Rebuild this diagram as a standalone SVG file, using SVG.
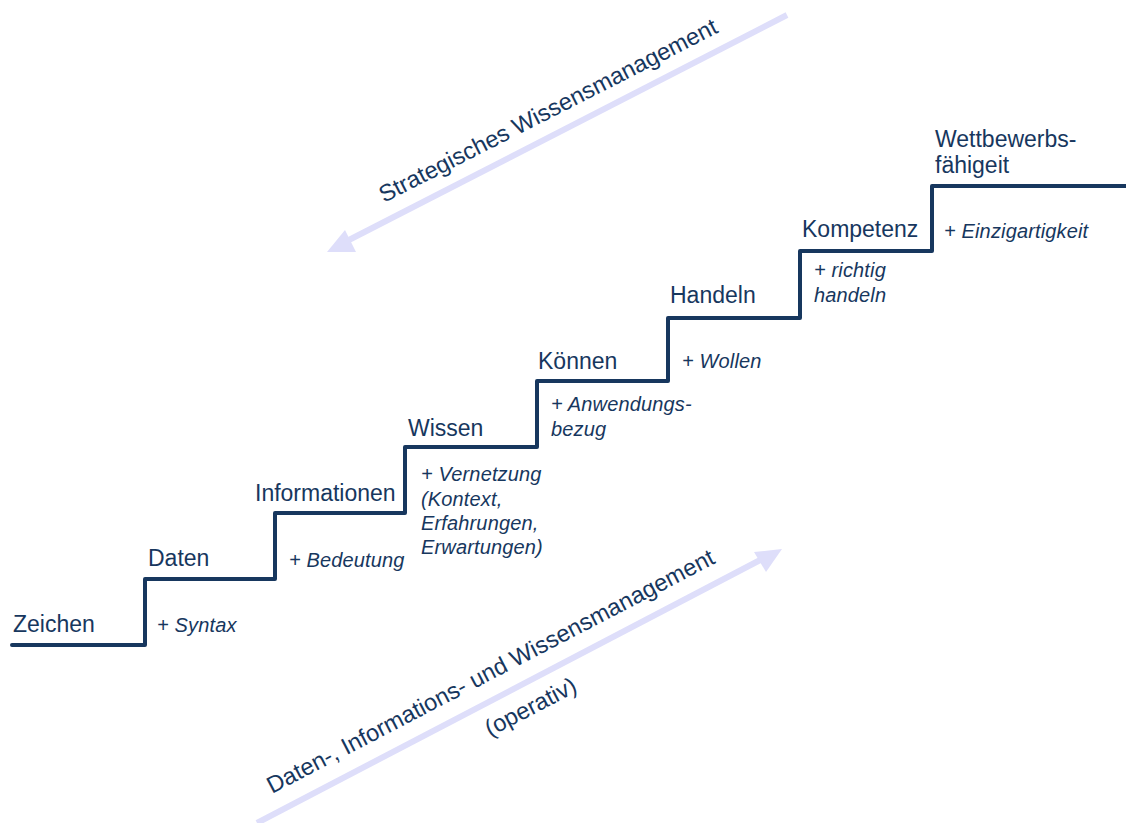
<svg xmlns="http://www.w3.org/2000/svg" width="1126" height="823" viewBox="0 0 1126 823">
  <style>
    .step { fill: none; stroke: #17375e; stroke-width: 4; stroke-linejoin: round; stroke-linecap: round; }
    .lbl { font-family: "Liberation Sans", Arial, sans-serif; font-size: 23px; fill: #17375e; }
    .cap { font-family: "Liberation Sans", Arial, sans-serif; font-size: 23.6px; fill: #17375e; }
    .add { font-family: "Liberation Sans", Arial, sans-serif; font-size: 20px; font-style: italic; fill: #17375e; letter-spacing: 0.15px; }
    .dir { fill: none; stroke: #dedefa; stroke-width: 6; }
    .head { fill: #dedefa; }
  </style>

  <!-- direction arrows -->
  <g id="connectors">
    <line class="dir" x1="787" y1="15" x2="345" y2="242"/>
    <polygon class="head" points="327,252 345,230 356,252"/>
    <line class="dir" x1="257" y1="823" x2="764" y2="558"/>
    <polygon class="head" points="782,549 754,552 766,572"/>
  </g>

  <!-- staircase -->
  <g id="stairs">
    <path class="step" d="M12,645 H145 V579 H275 V513 H405 V447 H537 V381 H668 V318 H800 V251 H932 V186 H1126"/>
  </g>

  <g id="zeichen">
    <text class="lbl" x="13" y="632">Zeichen</text>
  </g>
  <g id="daten">
    <text class="lbl" x="148" y="566">Daten</text>
    <text class="add" x="157" y="632">+ Syntax</text>
  </g>
  <g id="informationen">
    <text class="lbl" x="255" y="501">Informationen</text>
    <text class="add" x="289" y="567">+ Bedeutung</text>
  </g>
  <g id="wissen">
    <text class="lbl" x="408" y="436">Wissen</text>
    <text class="add" x="421" y="481">+ Vernetzung</text>
    <text class="add" x="421" y="506">(Kontext,</text>
    <text class="add" x="421" y="530">Erfahrungen,</text>
    <text class="add" x="421" y="554">Erwartungen)</text>
  </g>
  <g id="koennen">
    <text class="lbl" x="538" y="369">Können</text>
    <text class="add" x="551" y="411">+ Anwendungs-</text>
    <text class="add" x="551" y="436">bezug</text>
  </g>
  <g id="handeln">
    <text class="lbl" x="670" y="303">Handeln</text>
    <text class="add" x="682" y="368">+ Wollen</text>
  </g>
  <g id="kompetenz">
    <text class="lbl" x="802" y="237">Kompetenz</text>
    <text class="add" x="814" y="277">+ richtig</text>
    <text class="add" x="814" y="302">handeln</text>
  </g>
  <g id="wettbewerb">
    <text class="lbl" x="935" y="147">Wettbewerbs-</text>
    <text class="lbl" x="935" y="173">fähigeit</text>
    <text class="add" x="944" y="238">+ Einzigartigkeit</text>
  </g>

  <!-- arrow captions -->
  <g id="strategisch">
    <text class="cap" x="384" y="203" transform="rotate(-27 384 203)">Strategisches Wissensmanagement</text>
  </g>
  <g id="operativ">
    <text class="cap" x="272" y="794" transform="rotate(-27.5 272 794)">Daten-, Informations- und Wissensmanagement</text>
    <text class="cap" x="490" y="737" transform="rotate(-27.5 490 737)">(operativ)</text>
  </g>
</svg>
